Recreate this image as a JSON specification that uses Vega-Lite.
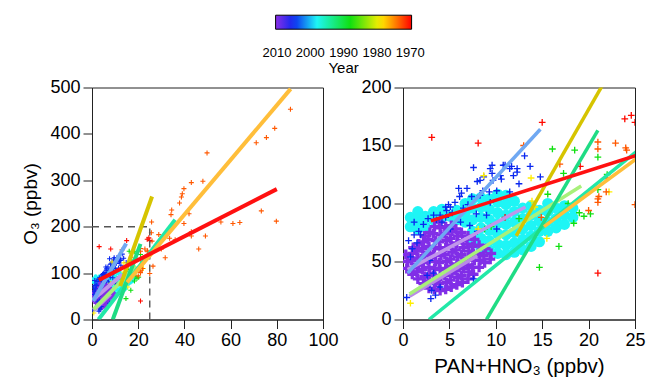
{
  "$schema": "https://vega.github.io/schema/vega-lite/v6.json",
  "padding": {"left": 21, "top": 14.5, "right": 0, "bottom": 0},
  "bounds": "flush",
  "spacing": 80,
  "datasets": {
    "pts": [
      {"yr":2005,"x":0.6,"o3":68},{"yr":2005,"x":1.0,"o3":61},{"yr":2005,"x":0.8,"o3":54},{"yr":2005,"x":1.7,"o3":76},{"yr":2005,"x":1.2,"o3":73},
      {"yr":2005,"x":2.9,"o3":51},{"yr":2005,"x":3.1,"o3":25},{"yr":2005,"x":3.0,"o3":18},{"yr":2005,"x":3.5,"o3":21},{"yr":2005,"x":2.6,"o3":38},
      {"yr":2005,"x":3.3,"o3":40},{"yr":2005,"x":3.3,"o3":90},{"yr":2005,"x":4.0,"o3":90},{"yr":2005,"x":4.6,"o3":88},{"yr":2005,"x":3.6,"o3":86},
      {"yr":2005,"x":4.2,"o3":84},{"yr":2005,"x":4.7,"o3":94},{"yr":2005,"x":4.6,"o3":97},{"yr":2005,"x":4.9,"o3":99},{"yr":2005,"x":5.3,"o3":92},
      {"yr":2005,"x":6.0,"o3":113},{"yr":2005,"x":6.9,"o3":113},{"yr":2005,"x":6.3,"o3":109},{"yr":2005,"x":6.1,"o3":106},{"yr":2005,"x":5.1,"o3":97},
      {"yr":2005,"x":7.6,"o3":131},{"yr":2005,"x":8.0,"o3":119},{"yr":2005,"x":8.7,"o3":123},{"yr":2005,"x":9.6,"o3":126},{"yr":2005,"x":9.3,"o3":110},
      {"yr":2005,"x":9.6,"o3":133},{"yr":2005,"x":9.4,"o3":130},{"yr":2005,"x":10.8,"o3":133},{"yr":2005,"x":11.5,"o3":130},{"yr":2005,"x":12.3,"o3":127},
      {"yr":2005,"x":11.7,"o3":132},{"yr":2005,"x":13.1,"o3":141},{"yr":2005,"x":13.7,"o3":132},{"yr":2005,"x":14.8,"o3":123},{"yr":2005,"x":12.5,"o3":117},
      {"yr":2005,"x":11.5,"o3":110},{"yr":2005,"x":8.3,"o3":107},{"yr":2005,"x":9.0,"o3":90},{"yr":2005,"x":7.6,"o3":35},{"yr":2005,"x":2.9,"o3":30},
      {"yr":2005,"x":6.2,"o3":84},{"yr":2005,"x":7.2,"o3":81},{"yr":2005,"x":8.0,"o3":76},{"yr":2005,"x":5.1,"o3":78},{"yr":2005,"x":1.9,"o3":73},
      {"yr":2005,"x":1.5,"o3":66},{"yr":2005,"x":10.1,"o3":78},{"yr":2005,"x":9.4,"o3":101},{"yr":2005,"x":7.4,"o3":106},{"yr":2005,"x":8.3,"o3":120},
      {"yr":2005,"x":9.7,"o3":120},{"yr":2005,"x":8.6,"o3":111},{"yr":2005,"x":10.1,"o3":111},{"yr":2005,"x":10.5,"o3":124},{"yr":2005,"x":11.0,"o3":133},
      {"yr":2005,"x":12.3,"o3":130},{"yr":2005,"x":7.9,"o3":91},{"yr":2005,"x":6.5,"o3":96},{"yr":2005,"x":5.6,"o3":101},{"yr":2005,"x":7.0,"o3":99},
      {"yr":2005,"x":10.6,"o3":121},{"yr":2005,"x":11.9,"o3":124},{"yr":2005,"x":4.0,"o3":28},{"yr":2005,"x":2.2,"o3":82},{"yr":2005,"x":1.2,"o3":84},
      {"yr":2005,"x":2.7,"o3":87},{"yr":2005,"x":0.4,"o3":19},
      {"yr":1988,"x":16.1,"o3":147},{"yr":1988,"x":18.5,"o3":146},{"yr":1988,"x":21.0,"o3":140},{"yr":1988,"x":17.3,"o3":126},{"yr":1988,"x":15.6,"o3":108},
      {"yr":1988,"x":17.8,"o3":100},{"yr":1988,"x":14.7,"o3":45},{"yr":1988,"x":16.8,"o3":63},{"yr":1988,"x":18.4,"o3":83},{"yr":1988,"x":19.5,"o3":89},
      {"yr":1988,"x":20.2,"o3":91},{"yr":1988,"x":21.0,"o3":112},{"yr":1988,"x":8.8,"o3":78},{"yr":1988,"x":9.5,"o3":80},{"yr":1988,"x":12.5,"o3":87},
      {"yr":1988,"x":19.0,"o3":92},{"yr":1988,"x":22.0,"o3":125},
      {"yr":1979,"x":13.8,"o3":122},{"yr":1979,"x":8.7,"o3":124},{"yr":1979,"x":15.5,"o3":70},{"yr":1979,"x":0.8,"o3":14},{"yr":1979,"x":20.0,"o3":110},
      {"yr":1979,"x":22.2,"o3":110},{"yr":1979,"x":8.1,"o3":78},{"yr":1979,"x":13.9,"o3":102},{"yr":1979,"x":14.2,"o3":97},
      {"yr":1973,"x":13.0,"o3":150},{"yr":1973,"x":16.9,"o3":134},{"yr":1973,"x":21.0,"o3":153},{"yr":1973,"x":21.0,"o3":147},{"yr":1973,"x":22.9,"o3":152},
      {"yr":1973,"x":24.0,"o3":148},{"yr":1973,"x":24.1,"o3":146},{"yr":1973,"x":21.9,"o3":122},{"yr":1973,"x":21.9,"o3":110},{"yr":1973,"x":21.0,"o3":104},
      {"yr":1973,"x":21.0,"o3":101},{"yr":1973,"x":21.1,"o3":106},{"yr":1973,"x":20.0,"o3":94},{"yr":1973,"x":25.0,"o3":99},{"yr":1973,"x":14.9,"o3":88},
      {"yr":1973,"x":85.9,"o3":453},{"yr":1973,"x":79.1,"o3":412},{"yr":1973,"x":75.5,"o3":392},{"yr":1973,"x":71.1,"o3":381},{"yr":1973,"x":49.8,"o3":359},
      {"yr":1973,"x":48.0,"o3":298},{"yr":1973,"x":43.0,"o3":295},{"yr":1973,"x":39.8,"o3":282},{"yr":1973,"x":39.1,"o3":271},{"yr":1973,"x":38.7,"o3":264},
      {"yr":1973,"x":37.9,"o3":251},{"yr":1973,"x":34.5,"o3":236},{"yr":1973,"x":34.2,"o3":226},{"yr":1973,"x":42.0,"o3":228},{"yr":1973,"x":39.8,"o3":207},
      {"yr":1973,"x":43.0,"o3":189},{"yr":1973,"x":43.0,"o3":180},{"yr":1973,"x":49.1,"o3":180},{"yr":1973,"x":33.6,"o3":175},{"yr":1973,"x":46.2,"o3":152},
      {"yr":1973,"x":31.7,"o3":133},{"yr":1973,"x":25.8,"o3":210},{"yr":1973,"x":25.7,"o3":187},{"yr":1973,"x":26.0,"o3":169},{"yr":1973,"x":26.4,"o3":115},
      {"yr":1973,"x":28.9,"o3":183},{"yr":1973,"x":61.0,"o3":207},{"yr":1973,"x":64.0,"o3":209},{"yr":1973,"x":79.8,"o3":212},{"yr":1973,"x":73.3,"o3":234},
      {"yr":1973,"x":55.8,"o3":210},{"yr":1973,"x":30.0,"o3":152},{"yr":1973,"x":36.0,"o3":172},
      {"yr":1970,"x":3.1,"o3":157},{"yr":1970,"x":8.1,"o3":152},{"yr":1970,"x":15.0,"o3":170},{"yr":1970,"x":21.0,"o3":40},{"yr":1970,"x":11.0,"o3":88},
      {"yr":1970,"x":19.1,"o3":132},{"yr":1970,"x":23.9,"o3":173},{"yr":1970,"x":25.0,"o3":170},{"yr":1970,"x":24.6,"o3":176}
    ],
    "purple": [
      {"yr":2010,"x":0.4,"o3":44},{"yr":2010,"x":0.5,"o3":50},{"yr":2010,"x":0.3,"o3":56},
      {"yr":2010,"x":1.0,"o3":39},{"yr":2010,"x":1.1,"o3":45},{"yr":2010,"x":0.9,"o3":51},{"yr":2010,"x":1.0,"o3":57},{"yr":2010,"x":1.1,"o3":62},
      {"yr":2010,"x":1.6,"o3":35},{"yr":2010,"x":1.5,"o3":41},{"yr":2010,"x":1.7,"o3":47},{"yr":2010,"x":1.6,"o3":53},{"yr":2010,"x":1.5,"o3":59},{"yr":2010,"x":1.7,"o3":65},
      {"yr":2010,"x":2.2,"o3":31},{"yr":2010,"x":2.3,"o3":37},{"yr":2010,"x":2.1,"o3":43},{"yr":2010,"x":2.2,"o3":49},{"yr":2010,"x":2.3,"o3":55},{"yr":2010,"x":2.1,"o3":61},{"yr":2010,"x":2.2,"o3":67},{"yr":2010,"x":2.3,"o3":72},
      {"yr":2010,"x":2.8,"o3":27},{"yr":2010,"x":2.7,"o3":33},{"yr":2010,"x":2.9,"o3":39},{"yr":2010,"x":2.8,"o3":45},{"yr":2010,"x":2.7,"o3":51},{"yr":2010,"x":2.9,"o3":57},{"yr":2010,"x":2.8,"o3":63},{"yr":2010,"x":2.7,"o3":69},{"yr":2010,"x":2.9,"o3":75},
      {"yr":2010,"x":3.4,"o3":26},{"yr":2010,"x":3.5,"o3":32},{"yr":2010,"x":3.3,"o3":38},{"yr":2010,"x":3.4,"o3":44},{"yr":2010,"x":3.5,"o3":50},{"yr":2010,"x":3.3,"o3":56},{"yr":2010,"x":3.4,"o3":62},{"yr":2010,"x":3.5,"o3":68},{"yr":2010,"x":3.3,"o3":74},{"yr":2010,"x":3.4,"o3":80},
      {"yr":2010,"x":4.0,"o3":25},{"yr":2010,"x":3.9,"o3":31},{"yr":2010,"x":4.1,"o3":37},{"yr":2010,"x":4.0,"o3":43},{"yr":2010,"x":3.9,"o3":49},{"yr":2010,"x":4.1,"o3":55},{"yr":2010,"x":4.0,"o3":61},{"yr":2010,"x":3.9,"o3":67},{"yr":2010,"x":4.1,"o3":73},{"yr":2010,"x":4.0,"o3":79},{"yr":2010,"x":3.9,"o3":84},
      {"yr":2010,"x":4.6,"o3":26},{"yr":2010,"x":4.7,"o3":32},{"yr":2010,"x":4.5,"o3":38},{"yr":2010,"x":4.6,"o3":44},{"yr":2010,"x":4.7,"o3":50},{"yr":2010,"x":4.5,"o3":56},{"yr":2010,"x":4.6,"o3":62},{"yr":2010,"x":4.7,"o3":68},{"yr":2010,"x":4.5,"o3":74},{"yr":2010,"x":4.6,"o3":80},
      {"yr":2010,"x":5.2,"o3":28},{"yr":2010,"x":5.1,"o3":34},{"yr":2010,"x":5.3,"o3":40},{"yr":2010,"x":5.2,"o3":46},{"yr":2010,"x":5.1,"o3":52},{"yr":2010,"x":5.3,"o3":58},{"yr":2010,"x":5.2,"o3":64},{"yr":2010,"x":5.1,"o3":70},{"yr":2010,"x":5.3,"o3":76},{"yr":2010,"x":5.2,"o3":81},
      {"yr":2010,"x":5.8,"o3":30},{"yr":2010,"x":5.9,"o3":36},{"yr":2010,"x":5.7,"o3":42},{"yr":2010,"x":5.8,"o3":48},{"yr":2010,"x":5.9,"o3":54},{"yr":2010,"x":5.7,"o3":60},{"yr":2010,"x":5.8,"o3":66},{"yr":2010,"x":5.9,"o3":72},{"yr":2010,"x":5.7,"o3":78},
      {"yr":2010,"x":6.4,"o3":32},{"yr":2010,"x":6.3,"o3":38},{"yr":2010,"x":6.5,"o3":44},{"yr":2010,"x":6.4,"o3":50},{"yr":2010,"x":6.3,"o3":56},{"yr":2010,"x":6.5,"o3":62},{"yr":2010,"x":6.4,"o3":68},{"yr":2010,"x":6.3,"o3":75},
      {"yr":2010,"x":7.0,"o3":35},{"yr":2010,"x":7.1,"o3":41},{"yr":2010,"x":6.9,"o3":47},{"yr":2010,"x":7.0,"o3":53},{"yr":2010,"x":7.1,"o3":59},{"yr":2010,"x":6.9,"o3":65},{"yr":2010,"x":7.0,"o3":72},
      {"yr":2010,"x":7.6,"o3":39},{"yr":2010,"x":7.5,"o3":45},{"yr":2010,"x":7.7,"o3":51},{"yr":2010,"x":7.6,"o3":57},{"yr":2010,"x":7.5,"o3":63},{"yr":2010,"x":7.7,"o3":69},
      {"yr":2010,"x":8.2,"o3":45},{"yr":2010,"x":8.3,"o3":51},{"yr":2010,"x":8.1,"o3":57},{"yr":2010,"x":8.2,"o3":64},
      {"yr":2010,"x":8.8,"o3":49},{"yr":2010,"x":8.7,"o3":55},{"yr":2010,"x":8.9,"o3":61},
      {"yr":2010,"x":9.4,"o3":52},{"yr":2010,"x":9.5,"o3":57}
    ],
    "cyan": [
      {"yr":1998,"x":0.8,"o3":80},{"yr":1998,"x":0.8,"o3":88},
      {"yr":1998,"x":1.6,"o3":78},{"yr":1998,"x":1.6,"o3":86},{"yr":1998,"x":1.6,"o3":93},
      {"yr":1998,"x":2.4,"o3":80},{"yr":1998,"x":2.4,"o3":89},
      {"yr":1998,"x":3.3,"o3":86},{"yr":1998,"x":3.3,"o3":93},
      {"yr":1998,"x":4.2,"o3":88},{"yr":1998,"x":4.2,"o3":95},
      {"yr":1998,"x":5.1,"o3":89},
      {"yr":1998,"x":5.8,"o3":86},{"yr":1998,"x":5.8,"o3":94},
      {"yr":1998,"x":6.7,"o3":84},{"yr":1998,"x":6.7,"o3":92},{"yr":1998,"x":6.7,"o3":100},
      {"yr":1998,"x":7.5,"o3":66},{"yr":1998,"x":7.5,"o3":76},{"yr":1998,"x":7.5,"o3":86},{"yr":1998,"x":7.5,"o3":96},{"yr":1998,"x":7.5,"o3":104},
      {"yr":1998,"x":8.4,"o3":62},{"yr":1998,"x":8.4,"o3":70},{"yr":1998,"x":8.4,"o3":79},{"yr":1998,"x":8.4,"o3":88},{"yr":1998,"x":8.4,"o3":97},{"yr":1998,"x":8.4,"o3":105},
      {"yr":1998,"x":9.3,"o3":60},{"yr":1998,"x":9.3,"o3":68},{"yr":1998,"x":9.3,"o3":77},{"yr":1998,"x":9.3,"o3":86},{"yr":1998,"x":9.3,"o3":95},{"yr":1998,"x":9.3,"o3":104},
      {"yr":1998,"x":10.2,"o3":57},{"yr":1998,"x":10.2,"o3":65},{"yr":1998,"x":10.2,"o3":74},{"yr":1998,"x":10.2,"o3":83},{"yr":1998,"x":10.2,"o3":92},{"yr":1998,"x":10.2,"o3":101},{"yr":1998,"x":10.2,"o3":108},
      {"yr":1998,"x":11.1,"o3":56},{"yr":1998,"x":11.1,"o3":64},{"yr":1998,"x":11.1,"o3":73},{"yr":1998,"x":11.1,"o3":82},{"yr":1998,"x":11.1,"o3":90},{"yr":1998,"x":11.1,"o3":99},{"yr":1998,"x":11.1,"o3":107},
      {"yr":1998,"x":12.0,"o3":58},{"yr":1998,"x":12.0,"o3":66},{"yr":1998,"x":12.0,"o3":75},{"yr":1998,"x":12.0,"o3":84},{"yr":1998,"x":12.0,"o3":93},{"yr":1998,"x":12.0,"o3":102},
      {"yr":1998,"x":12.9,"o3":60},{"yr":1998,"x":12.9,"o3":69},{"yr":1998,"x":12.9,"o3":78},{"yr":1998,"x":12.9,"o3":87},{"yr":1998,"x":12.9,"o3":96},
      {"yr":1998,"x":13.8,"o3":63},{"yr":1998,"x":13.8,"o3":72},{"yr":1998,"x":13.8,"o3":81},{"yr":1998,"x":13.8,"o3":90},{"yr":1998,"x":13.8,"o3":98},
      {"yr":1998,"x":14.7,"o3":67},{"yr":1998,"x":14.7,"o3":76},{"yr":1998,"x":14.7,"o3":85},{"yr":1998,"x":14.7,"o3":94},
      {"yr":1998,"x":15.6,"o3":76},{"yr":1998,"x":15.6,"o3":84},{"yr":1998,"x":15.6,"o3":93},{"yr":1998,"x":15.6,"o3":100},
      {"yr":1998,"x":16.5,"o3":79},{"yr":1998,"x":16.5,"o3":87},{"yr":1998,"x":16.5,"o3":96},
      {"yr":1998,"x":17.4,"o3":82},{"yr":1998,"x":17.4,"o3":90},{"yr":1998,"x":17.4,"o3":98},
      {"yr":1998,"x":18.3,"o3":88},{"yr":1998,"x":18.3,"o3":96}
    ],
    "fits": [
      {"s":"a_lav2","x":0.7,"o3":20},{"s":"a_lav2","x":8.0,"o3":55},
      {"s":"b_lgreen","x":0.7,"o3":22},{"s":"b_lgreen","x":19.2,"o3":115},
      {"s":"c_lav","x":0.5,"o3":43},{"s":"c_lav","x":13.2,"o3":97},
      {"s":"d_lblue","x":0.5,"o3":40},{"s":"d_lblue","x":14.8,"o3":164},
      {"s":"e_teal","x":2.8,"o3":0},{"s":"e_teal","x":36,"o3":215},
      {"s":"f_green","x":9,"o3":0},{"s":"f_green","x":21,"o3":163},
      {"s":"g_orange","x":15.2,"o3":80},{"s":"g_orange","x":86,"o3":497},
      {"s":"h_olive","x":12.2,"o3":72},{"s":"h_olive","x":26,"o3":265},
      {"s":"i_red","x":3,"o3":85},{"s":"i_red","x":80,"o3":281}
    ],
    "guides": [
      {"x":0,"o3":200,"x2":25,"o32":200},
      {"x":25,"o3":0,"x2":25,"o32":200}
    ]
  },
  "hconcat": [
    {
      "width": 231,
      "height": 232,
      "encoding": {
        "x": {"field":"x","type":"quantitative","scale":{"domain":[0,100],"nice":false},"axis":{"values":[0,20,40,60,80,100],"title":null}},
        "y": {"field":"o3","type":"quantitative","scale":{"domain":[0,500],"nice":false},"axis":{"values":[0,100,200,300,400,500],"title":"O₃ (ppbv)"}}
      },
      "layer": [
        {"data":{"name":"cyan"},"mark":{"type":"point","shape":"circle","filled":true,"size":16,"opacity":1,"clip":true},
         "encoding":{"color":{"field":"yr","type":"quantitative",
           "scale":{"domain":[2010.4,2005,1998,1988,1979,1975,1969.6],"range":["#8b2fe6","#0a28f0","#1ef5f5","#10e010","#ffee00","#ff8c00","#ff0000"],"interpolate":"rgb"},
           "legend":{"type":"gradient","orient":"none","legendX":183.6,"legendY":-72.3,"direction":"horizontal","gradientLength":136,"gradientThickness":14,
             "values":[2010,2000,1990,1980,1970],"format":"d","title":"Year","titleOrient":"bottom","titleAnchor":"middle",
             "labelFontSize":13,"labelColor":"#000","labelOffset":18,"labelOverlap":false,"labelAlign":"center",
             "titleFontSize":15,"titleFontWeight":"normal","titleColor":"#000","titlePadding":1,"padding":0,
             "gradientStrokeColor":"#000","gradientStrokeWidth":1}}}},
        {"data":{"name":"purple"},"mark":{"type":"point","shape":"M-1,-0.33H-0.33V-1H0.33V-0.33H1V0.33H0.33V1H-0.33V0.33H-1Z","filled":true,"size":20,"opacity":1,"clip":true},
         "encoding":{"color":{"field":"yr","type":"quantitative"}}},
        {"data":{"name":"pts"},"mark":{"type":"point","shape":"M-1,-0.22H-0.22V-1H0.22V-0.22H1V0.22H0.22V1H-0.22V0.22H-1Z","filled":true,"size":25,"opacity":1,"clip":true},
         "encoding":{"color":{"field":"yr","type":"quantitative"}}},
        {"data":{"name":"guides"},"mark":{"type":"rule","color":"#555","strokeDash":[7,5],"strokeWidth":1.4},
         "encoding":{"x2":{"field":"x2"},"y2":{"field":"o32"}}},
        {"data":{"name":"fits"},"mark":{"type":"line","strokeWidth":4,"strokeCap":"butt","clip":true},
         "encoding":{"stroke":{"field":"s","type":"nominal","legend":null,
           "scale":{"domain":["a_lav2","b_lgreen","c_lav","d_lblue","e_teal","f_green","g_orange","h_olive","i_red"],
                    "range":["#b98ae6","#a8f07a","#c096ea","#6fa8f2","#22e8a8","#1fdc84","#ffbe3a","#d6c400","#ff1010"]}}}}
      ]
    },
    {
      "width": 232,
      "height": 232,
      "encoding": {
        "x": {"field":"x","type":"quantitative","scale":{"domain":[0,25],"nice":false},"axis":{"values":[0,5,10,15,20,25],"title":"PAN+HNO₃ (ppbv)","titleFontSize":20.5,"titlePadding":7}},
        "y": {"field":"o3","type":"quantitative","scale":{"domain":[0,200],"nice":false},"axis":{"values":[0,50,100,150,200],"title":null}}
      },
      "layer": [
        {"data":{"name":"cyan"},"mark":{"type":"point","shape":"circle","filled":true,"size":125,"opacity":1,"clip":true},
         "encoding":{"color":{"field":"yr","type":"quantitative"}}},
        {"data":{"name":"purple"},"mark":{"type":"point","shape":"M-1,-0.33H-0.33V-1H0.33V-0.33H1V0.33H0.33V1H-0.33V0.33H-1Z","filled":true,"size":100,"opacity":1,"clip":true},
         "encoding":{"color":{"field":"yr","type":"quantitative"}}},
        {"data":{"name":"pts"},"mark":{"type":"point","shape":"M-1,-0.2H-0.2V-1H0.2V-0.2H1V0.2H0.2V1H-0.2V0.2H-1Z","filled":true,"size":45,"opacity":1,"clip":true},
         "encoding":{"color":{"field":"yr","type":"quantitative"}}},
        {"data":{"name":"fits"},"mark":{"type":"line","strokeWidth":3.5,"strokeCap":"butt","clip":true},
         "encoding":{"stroke":{"field":"s","type":"nominal","legend":null}}}
      ]
    }
  ],
  "resolve": {"scale": {"color": "shared", "stroke": "shared"}},
  "config": {
    "font": "Liberation Sans",
    "view": {"stroke": "#222", "strokeWidth": 1},
    "axis": {
      "grid": false, "domainColor": "#222", "tickColor": "#222", "tickSize": 9, "tickWidth": 1,
      "labelFontSize": 18, "labelColor": "#000", "labelPadding": 3, "labelFlush": false, "labelBound": false,
      "titleFontSize": 19, "titleFontWeight": "normal", "titleColor": "#000", "titlePadding": 9
    }
  }
}
